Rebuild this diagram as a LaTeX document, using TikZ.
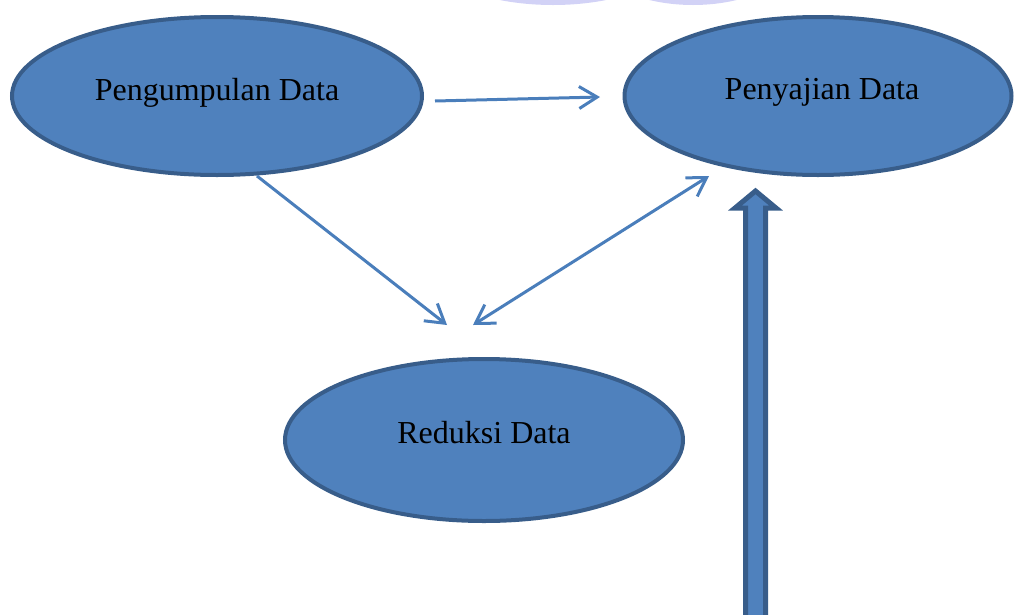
\documentclass[tikz,border=0pt]{standalone}
\usepackage{fontspec}
\setmainfont{Liberation Serif}
\usetikzlibrary{shapes.geometric,arrows.meta}
\definecolor{ofill}{HTML}{4F81BD}
\definecolor{oline}{HTML}{385D8A}
\definecolor{conn}{HTML}{4A7EBB}
\definecolor{lav}{HTML}{D2D2F6}
\tikzset{
  oval/.style={ellipse, draw=oline, fill=ofill, line width=4pt, inner sep=0pt},
  lbl/.style={font=\fontsize{32}{37}\selectfont, text=black, inner sep=0pt, anchor=base},
  conn/.style={draw=conn, line width=3pt, -{Straight Barb[length=18pt,width=22pt,line width=3pt]}},
  conn2/.style={draw=conn, line width=3pt, {Straight Barb[length=18pt,width=22pt,line width=3pt]}-{Straight Barb[length=18pt,width=22pt,line width=3pt]}},
}
\begin{document}
\begin{tikzpicture}[x=1pt,y=-1pt]
\useasboundingbox (0,0) rectangle (1015,614);
\begin{scope}
\clip (0,0) rectangle (1015,614);
% faint background shapes at top
\fill[lav] (553,-55) ellipse [x radius=133, y radius=60];
\fill[lav] (693,-55) ellipse [x radius=109, y radius=60];
% ellipses
\node[oval, minimum width=410pt, minimum height=158pt] (P) at (217,96) {};
\node[oval, minimum width=387pt, minimum height=158pt] (S) at (818,96) {};
\draw[black, line width=1pt] (669,466) arc[start angle=90, end angle=-120, x radius=3.5, y radius=5];
\node[oval, minimum width=398pt, minimum height=162pt] (R) at (484,440) {};
\end{scope}
\node[lbl] (tP) at (217,100) {Pengumpulan Data};
\node[lbl] (tS) at (822,99) {Penyajian Data};
\node[lbl] (tR) at (484,443) {Reduksi Data};
% connector endpoints
\coordinate (a1) at (435,101);
\coordinate (a2) at (600,97);
\coordinate (b1) at (257,176);
\coordinate (b2) at (447,325);
\coordinate (c1) at (473,325);
\coordinate (c2) at (709,176);
\draw[conn] (a1) -- (a2);
\draw[conn] (b1) -- (b2);
\draw[conn2] (c1) -- (c2);
% thick block arrow
\coordinate (up) at (755.5,191);
\draw[oline, fill=ofill, line width=5pt, line join=miter]
  (745.5,620) -- (745.5,208) -- (735,208) -- (up) -- (776,208) -- (765.5,208) -- (765.5,620);
\end{tikzpicture}
\end{document}
